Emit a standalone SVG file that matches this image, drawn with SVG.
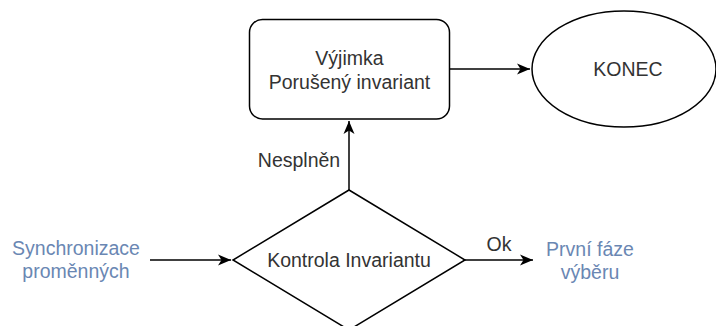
<svg xmlns="http://www.w3.org/2000/svg" width="716" height="326" viewBox="0 0 716 326">
<defs>
<marker id="arr" markerUnits="userSpaceOnUse" markerWidth="14" markerHeight="12" refX="13" refY="6" orient="auto">
<path d="M0,0.5 L13,6 L0,11.5 L3.5,6 Z" fill="#000"/>
</marker>
</defs>
<style>
.shape{fill:#fff;stroke:#000;stroke-width:1.5}
.edge{fill:none;stroke:#000;stroke-width:1.5}
text{font-family:"Liberation Sans",Arial,Helvetica,sans-serif;font-size:19.5px;text-anchor:middle}
.dark{fill:#333}
.blue{fill:#6a87b3}
</style>
<g id="edges">
<path class="edge" d="M150,260 L231,260" marker-end="url(#arr)"/>
<path class="edge" d="M465,260 L533,260" marker-end="url(#arr)"/>
<path class="edge" d="M349,190 L349,121" marker-end="url(#arr)"/>
<path class="edge" d="M450,69 L530,69" marker-end="url(#arr)"/>
<text class="dark" x="299" y="167">Nesplněn</text>
<text class="dark" x="499" y="251">Ok</text>
</g>
<g id="vyjimka">
<rect class="shape" x="249.5" y="19.5" width="200" height="99.5" rx="13" ry="13"/>
<text class="dark" x="349.5" y="65">Výjimka</text>
<text class="dark" x="349.5" y="88.5">Porušený invariant</text>
</g>
<g id="konec">
<ellipse class="shape" cx="624" cy="69" rx="92" ry="58"/>
<text class="dark" x="628" y="76">KONEC</text>
</g>
<g id="kontrola">
<path class="shape" d="M349,190 L465,260 L349,330 L233,260 Z"/>
<text class="dark" x="349" y="267">Kontrola Invariantu</text>
</g>
<g id="synchronizace">
<text class="blue" x="76" y="255">Synchronizace</text>
<text class="blue" x="76" y="278">proměnných</text>
</g>
<g id="prvni">
<text class="blue" x="590" y="256">První fáze</text>
<text class="blue" x="590" y="279">výběru</text>
</g>
</svg>
